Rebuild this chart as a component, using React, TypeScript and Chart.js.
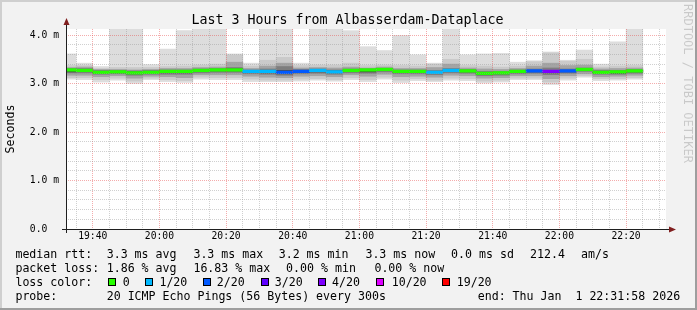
import React, { useEffect, useRef } from 'react';
import { Chart, registerables } from 'chart.js';

Chart.register(...registerables);

// ---------- text ----------
const TITLE = 'Last 3 Hours from Albasserdam-Dataplace';
const Y_AXIS_TITLE = 'Seconds';
const WATERMARK = 'RRDTOOL / TOBI OETIKER';

// ---------- time range / ticks ----------
const RANGE_START = '19:31:58';
const RANGE_END = '22:31:58';
const X_TICK_LABELS = ['19:40', '20:00', '20:20', '20:40', '21:00', '21:20', '21:40', '22:00', '22:20'];
const Y_TICK_VALUES = [0, 1, 2, 3, 4];
const Y_TICK_LABELS = ['0.0  ', '1.0 m', '2.0 m', '3.0 m', '4.0 m'];
const Y_MAX = 4.124;

// ---------- data: one entry per 5-minute step (RRD timestamp = end of step) ----------
const SLOT_TIMES = ['19:35', '19:40', '19:45', '19:50', '19:55', '20:00', '20:05', '20:10', '20:15', '20:20', '20:25', '20:30', '20:35', '20:40', '20:45', '20:50', '20:55', '21:00', '21:05', '21:10', '21:15', '21:20', '21:25', '21:30', '21:35', '21:40', '21:45', '21:50', '21:55', '22:00', '22:05', '22:10', '22:15', '22:20', '22:25'];

// sorted ping RTTs (ms) – smoke band bounds
const PING_MAX = [3.61, 3.42, 3.35, 4.16, 4.16, 3.39, 3.71, 4.09, 4.16, 4.16, 3.61, 3.42, 4.16, 4.16, 3.42, 4.16, 4.16, 4.09, 3.76, 3.68, 3.99, 3.59, 3.42, 4.16, 3.59, 3.61, 3.62, 3.44, 3.47, 3.65, 3.48, 3.69, 3.40, 3.86, 4.16];
const PING_P19 = [3.37, 3.37, 3.31, 3.33, 3.33, 3.33, 3.35, 3.36, 3.38, 3.40, 3.59, 3.36, 3.48, 3.54, 3.37, 3.38, 3.38, 3.42, 3.37, 3.38, 3.37, 3.36, 3.40, 3.50, 3.37, 3.36, 3.34, 3.36, 3.45, 3.63, 3.46, 3.50, 3.34, 3.36, 3.37];
const PING_P17 = [3.33, 3.34, 3.29, 3.29, 3.28, 3.29, 3.31, 3.31, 3.33, 3.34, 3.44, 3.31, 3.36, 3.42, 3.32, 3.33, 3.32, 3.34, 3.32, 3.34, 3.31, 3.31, 3.33, 3.40, 3.32, 3.30, 3.29, 3.31, 3.36, 3.42, 3.37, 3.38, 3.30, 3.31, 3.32];
const PING_P14 = [3.31, 3.31, 3.27, 3.27, 3.26, 3.27, 3.28, 3.28, 3.30, 3.31, 3.33, 3.28, 3.30, 3.35, 3.29, 3.30, 3.28, 3.30, 3.30, 3.31, 3.28, 3.28, 3.27, 3.31, 3.29, 3.25, 3.25, 3.28, 3.30, 3.32, 3.30, 3.32, 3.27, 3.27, 3.29];
const PING_P12 = [3.29, 3.29, 3.25, 3.25, 3.24, 3.25, 3.26, 3.26, 3.28, 3.29, 3.30, 3.26, 3.27, 3.27, 3.27, 3.28, 3.26, 3.28, 3.29, 3.30, 3.26, 3.26, 3.25, 3.28, 3.27, 3.23, 3.23, 3.26, 3.27, 3.27, 3.27, 3.30, 3.25, 3.25, 3.27];
const MEDIAN_RTT = [3.28, 3.27, 3.23, 3.24, 3.22, 3.23, 3.25, 3.25, 3.27, 3.28, 3.28, 3.25, 3.25, 3.23, 3.25, 3.27, 3.24, 3.27, 3.28, 3.29, 3.25, 3.25, 3.23, 3.27, 3.26, 3.21, 3.22, 3.25, 3.26, 3.25, 3.26, 3.29, 3.23, 3.24, 3.26];
const PING_P9 = [3.24, 3.25, 3.21, 3.22, 3.20, 3.21, 3.22, 3.22, 3.25, 3.26, 3.26, 3.23, 3.22, 3.20, 3.23, 3.24, 3.22, 3.25, 3.24, 3.27, 3.23, 3.23, 3.21, 3.25, 3.24, 3.19, 3.20, 3.23, 3.24, 3.22, 3.24, 3.27, 3.21, 3.21, 3.24];
const PING_P7 = [3.22, 3.22, 3.19, 3.20, 3.17, 3.19, 3.19, 3.19, 3.22, 3.23, 3.23, 3.20, 3.19, 3.17, 3.20, 3.21, 3.19, 3.22, 3.21, 3.24, 3.20, 3.20, 3.18, 3.22, 3.21, 3.16, 3.17, 3.20, 3.21, 3.18, 3.21, 3.25, 3.19, 3.19, 3.21];
const PING_P4 = [3.17, 3.17, 3.14, 3.16, 3.11, 3.15, 3.14, 3.12, 3.18, 3.18, 3.18, 3.15, 3.13, 3.12, 3.15, 3.16, 3.14, 3.18, 3.15, 3.19, 3.14, 3.15, 3.13, 3.17, 3.16, 3.11, 3.12, 3.16, 3.16, 3.10, 3.16, 3.20, 3.14, 3.15, 3.17];
const PING_P2 = [3.12, 3.12, 3.08, 3.11, 3.05, 3.11, 3.08, 3.06, 3.13, 3.12, 3.12, 3.09, 3.07, 3.07, 3.09, 3.10, 3.08, 3.12, 3.08, 3.13, 3.07, 3.10, 3.07, 3.11, 3.10, 3.05, 3.07, 3.11, 3.11, 3.03, 3.11, 3.16, 3.10, 3.10, 3.12];
const PING_MIN = [3.09, 3.08, 3.03, 3.07, 3.00, 3.08, 3.04, 3.02, 3.09, 3.08, 3.08, 3.04, 3.04, 3.04, 3.05, 3.07, 3.05, 3.08, 3.04, 3.09, 3.02, 3.06, 3.04, 3.07, 3.06, 3.01, 3.03, 3.08, 3.08, 2.98, 3.07, 3.13, 3.06, 3.07, 3.09];
// packet loss per step (%)
const LOSS_PCT = [0, 0, 0, 0, 0, 0, 0, 0, 0, 0, 0, 5, 5, 10, 10, 5, 5, 0, 0, 0, 0, 0, 5, 5, 0, 0, 0, 0, 10, 16.83, 10, 0, 0, 0, 0];

// ---------- legend ----------
const PINGS_PER_STEP = 20;
const LOSS_LEVELS = [0, 1, 2, 3, 4, 10, 19];
const LOSS_LABELS = ['0', '1/20', '2/20', '3/20', '4/20', '10/20', '19/20'];
const LOSS_COLORS = ['#26ff00', '#00b8ff', '#0059ff', '#5e00ff', '#7e00ff', '#dd00ff', '#ff0000'];
const RTT_STATS = ['3.3 ms avg', '3.3 ms max', '3.2 ms min', '3.3 ms now', '0.0 ms sd', '212.4', 'am/s'];
const LOSS_STATS = ['1.86 % avg', '16.83 % max', '0.00 % min', '0.00 % now'];
const PROBE_TEXT = '20 ICMP Echo Pings (56 Bytes) every 300s';
const END_TEXT = 'end: Thu Jan  1 22:31:58 2026';

// ---------- styles ----------
const SMOKE_COLORS = ['#dddddd', '#cacaca', '#a4a4a4', '#7e7e7e', '#454545'];
const MONO = "'DejaVu Sans Mono', monospace";
const BACK = '#f2f2f2';
const GRID = 'rgba(150,150,150,0.45)';
const MGRID = 'rgba(230,70,70,0.45)';
const MEDIAN_HALF = 0.027;

const toMin = (s: string) => {
  const [h, m, sec] = s.split(':').map(Number);
  return h * 60 + m + (sec || 0) / 60;
};
const X_MIN = toMin(RANGE_START);
const X_MAX = toMin(RANGE_END);
const STEP = 5;
const GRID_X: number[] = [];
for (let v = Math.ceil(X_MIN / STEP) * STEP; v < X_MAX; v += STEP) GRID_X.push(v);
const GRID_Y: number[] = [];
for (let i = 0; i <= 20; i++) GRID_Y.push(i / 5);

const lossColor = (pct: number) => {
  const lost = (pct * PINGS_PER_STEP) / 100;
  for (let k = 0; k < LOSS_LEVELS.length; k++) if (lost <= LOSS_LEVELS[k] + 1e-9) return LOSS_COLORS[k];
  return LOSS_COLORS[LOSS_COLORS.length - 1];
};
const slotCenter = (t: string) => toMin(t) - STEP / 2;

const rrdPlugin = {
  id: 'rrdDecor',
  beforeDraw(chart: any) {
    const { ctx, width, height, chartArea: a } = chart;
    ctx.save();
    ctx.fillStyle = BACK;
    ctx.fillRect(0, 0, width, height);
    ctx.fillStyle = '#cfcfcf';
    ctx.fillRect(0, 0, width, 2);
    ctx.fillRect(0, 0, 2, height);
    ctx.fillStyle = '#9e9e9e';
    ctx.fillRect(0, height - 2, width, 2);
    ctx.fillRect(width - 2, 0, 2, height);
    ctx.fillStyle = '#ffffff';
    ctx.fillRect(a.left, a.top, a.right - a.left, a.bottom - a.top);
    ctx.restore();
  },
  afterDraw(chart: any) {
    const { ctx, chartArea: a } = chart;
    ctx.save();
    // axes
    ctx.fillStyle = '#1f1f1f';
    ctx.fillRect(a.left - 4, a.bottom, a.right - a.left + 9, 1);
    ctx.fillRect(a.left, a.top - 5, 1, a.bottom - a.top + 9);
    ctx.fillStyle = '#801f1f';
    ctx.beginPath();
    ctx.moveTo(a.left + 0.5, a.top - 11);
    ctx.lineTo(a.left + 3.5, a.top - 4);
    ctx.lineTo(a.left - 2.5, a.top - 4);
    ctx.closePath();
    ctx.fill();
    ctx.beginPath();
    ctx.moveTo(a.right + 10, a.bottom + 0.5);
    ctx.lineTo(a.right + 3, a.bottom + 3.5);
    ctx.lineTo(a.right + 3, a.bottom - 2.5);
    ctx.closePath();
    ctx.fill();

    // title
    ctx.fillStyle = '#000';
    ctx.font = `13.3px ${MONO}`;
    ctx.textAlign = 'center';
    ctx.textBaseline = 'alphabetic';
    ctx.fillText(TITLE, 347.5, 23.5);

    // y axis title
    ctx.save();
    ctx.translate(14, (a.top + a.bottom) / 2);
    ctx.rotate(-Math.PI / 2);
    ctx.font = `11.6px ${MONO}`;
    ctx.textAlign = 'center';
    ctx.fillText(Y_AXIS_TITLE, 0, 0);
    ctx.restore();

    // watermark
    ctx.save();
    ctx.translate(684, 4);
    ctx.rotate(Math.PI / 2);
    ctx.font = `12px ${MONO}`;
    ctx.textAlign = 'left';
    ctx.fillStyle = 'rgba(0,0,0,0.17)';
    ctx.fillText(WATERMARK, 0, 0);
    ctx.restore();

    // legend
    ctx.font = `11.6px ${MONO}`;
    ctx.textAlign = 'left';
    ctx.fillStyle = '#000';
    const L = 15.4;
    const rows = [257.7, 271.7, 285.7, 299.7];
    ctx.fillText('median rtt:', L, rows[0]);
    const rttX = [106.7, 193.4, 278.7, 365.4, 451.1, 530.1, 581.1];
    RTT_STATS.forEach((s, i) => ctx.fillText(s, rttX[i], rows[0]));
    ctx.fillText('packet loss:', L, rows[1]);
    const lossX = [106.7, 193.4, 286.1, 374.4];
    LOSS_STATS.forEach((s, i) => ctx.fillText(s, lossX[i], rows[1]));
    ctx.fillText('loss color:', L, rows[2]);
    const boxX = [108, 145, 203, 261, 318, 376, 442];
    const labX = [122.7, 159.4, 216.7, 274.7, 332.1, 391.7, 456.7];
    LOSS_LABELS.forEach((s, i) => {
      ctx.fillStyle = '#000';
      ctx.fillRect(boxX[i], 278, 8, 8);
      ctx.fillStyle = LOSS_COLORS[i];
      ctx.fillRect(boxX[i] + 1, 279, 6, 6);
      ctx.fillStyle = '#000';
      ctx.fillText(s, labX[i], rows[2]);
    });
    ctx.fillText('probe:', L, rows[3]);
    ctx.fillText(PROBE_TEXT, 106.7, rows[3]);
    ctx.fillText(END_TEXT, 477.7, rows[3]);
    ctx.restore();
  },
};

export default function App() {
  const ref = useRef<HTMLCanvasElement | null>(null);
  useEffect(() => {
    document.body.style.margin = '0';
    const layers = [
      [PING_MIN, PING_MAX],
      [PING_P2, PING_P19],
      [PING_P4, PING_P17],
      [PING_P7, PING_P14],
      [PING_P9, PING_P12],
    ];
    const common = {
      type: 'bar',
      borderWidth: 0,
      barPercentage: 1,
      categoryPercentage: 1,
      grouped: false,
      clip: 0,
    };
    const datasets: any[] = layers.map(([lo, hi], k) => ({
      ...common,
      label: 'smoke' + k,
      data: SLOT_TIMES.map((t, i) => ({ x: slotCenter(t), y: [lo[i], hi[i]] })),
      backgroundColor: SMOKE_COLORS[k],
      order: 10 - k,
    }));
    datasets.push({
      ...common,
      label: 'median',
      data: SLOT_TIMES.map((t, i) => ({ x: slotCenter(t), y: [MEDIAN_RTT[i] - MEDIAN_HALF, MEDIAN_RTT[i] + MEDIAN_HALF] })),
      backgroundColor: LOSS_PCT.map(lossColor),
      order: 0,
    });

    const tickFont = { family: MONO, size: 9.7 };
    const chart = new Chart(ref.current as HTMLCanvasElement, {
      type: 'bar',
      data: { datasets },
      options: {
        responsive: false,
        animation: false,
        devicePixelRatio: 1,
        events: [],
        layout: { padding: { left: 0, right: 31, top: 29, bottom: 0 } },
        plugins: { legend: { display: false }, tooltip: { enabled: false }, title: { display: false } },
        scales: {
          x: {
            type: 'linear',
            min: X_MIN,
            max: X_MAX,
            offset: false,
            afterBuildTicks: (s: any) => {
              s.ticks = GRID_X.map((v) => ({ value: v }));
            },
            afterFit: (s: any) => {
              s.height = 81;
            },
            ticks: {
              autoSkip: false,
              maxRotation: 0,
              padding: 2,
              font: tickFont,
              color: '#000',
              callback: (v: any) => {
                const idx = X_TICK_LABELS.findIndex((l) => Math.abs(toMin(l) - v) < 0.01);
                return idx >= 0 ? X_TICK_LABELS[idx] : '';
              },
            },
            grid: {
              offset: false,
              z: 1,
              drawTicks: false,
              lineWidth: 1,
              color: (c: any) => (c.tick && Math.round(c.tick.value) % 20 === 0 ? MGRID : GRID),
            },
            border: { display: false, dash: [1, 1] },
          },
          y: {
            type: 'linear',
            min: 0,
            max: Y_MAX,
            afterBuildTicks: (s: any) => {
              s.ticks = GRID_Y.map((v) => ({ value: v }));
            },
            afterFit: (s: any) => {
              s.width = 66;
            },
            ticks: {
              autoSkip: false,
              padding: 7,
              font: tickFont,
              color: '#000',
              callback: (v: any) => {
                const idx = Y_TICK_VALUES.findIndex((t) => Math.abs(t - v) < 1e-6);
                return idx >= 0 ? Y_TICK_LABELS[idx] : '';
              },
            },
            grid: {
              z: 1,
              drawTicks: false,
              lineWidth: 1,
              color: (c: any) => {
                const v = c.tick ? c.tick.value : 0;
                if (v < 1e-6) return 'rgba(0,0,0,0)';
                return Math.abs(v - Math.round(v)) < 1e-6 ? MGRID : GRID;
              },
            },
            border: { display: false, dash: [1, 1] },
          },
        },
      } as any,
      plugins: [rrdPlugin],
    } as any);
    return () => chart.destroy();
  }, []);
  return (
    <div style={{ width: 697, height: 310 }}>
      <canvas ref={ref} width={697} height={310} style={{ display: 'block' }} />
    </div>
  );
}
